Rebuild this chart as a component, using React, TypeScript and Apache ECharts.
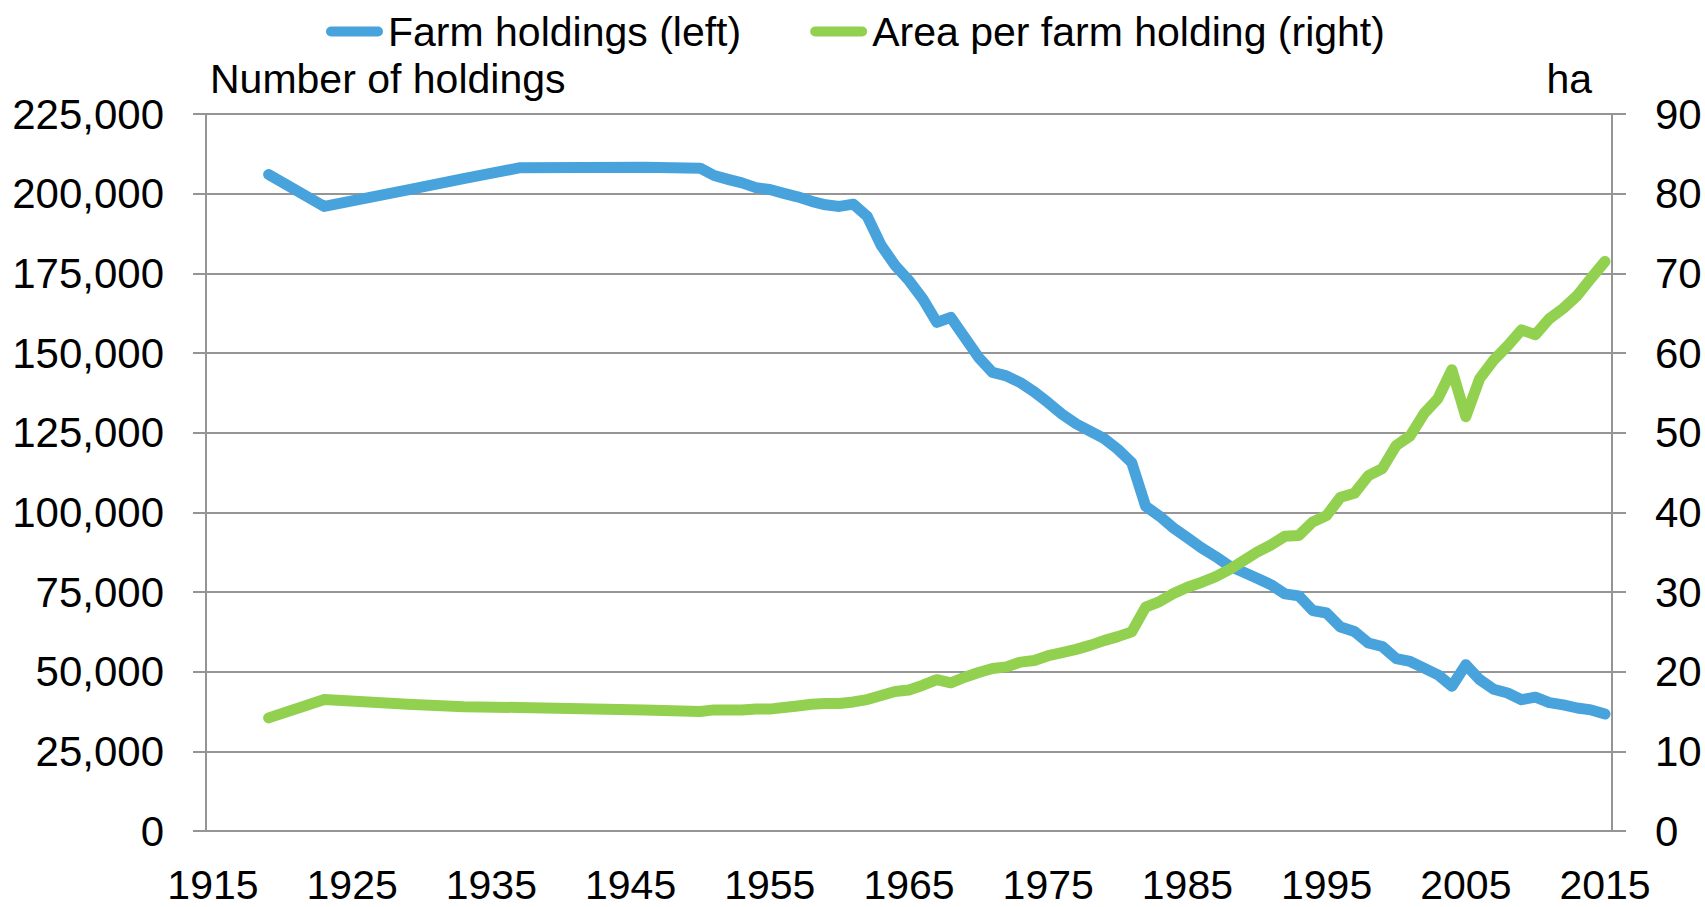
import React, { useEffect, useRef } from "react";
import * as echarts from "echarts";

// Years with observations
const years = [
  1919, 1923, 1929, 1933, 1937, 1946, 1950, 1951, 1952, 1953, 1954, 1955, 1956, 1957, 1958, 1959,
  1960, 1961, 1962, 1963, 1964, 1965, 1966, 1967, 1968, 1969, 1970, 1971, 1972, 1973, 1974, 1975,
  1976, 1977, 1978, 1979, 1980, 1981, 1982, 1983, 1984, 1985, 1986, 1987, 1988, 1989, 1990, 1991,
  1992, 1993, 1994, 1995, 1996, 1997, 1998, 1999, 2000, 2001, 2002, 2003, 2004, 2005, 2006, 2007,
  2008, 2009, 2010, 2011, 2012, 2013, 2014, 2015,
];

// Farm holdings (left axis, number)
const holdings = [
  206000, 196000, 201200, 204700, 208100, 208300, 208000, 205700, 204500, 203400, 201900, 201300,
  200100, 199000, 197600, 196500, 196000, 196700, 192900, 183800, 177500, 172700, 166900, 159600,
  161200, 154900, 148600, 143900, 142800, 140700, 137800, 134400, 130800, 127800, 125500, 123200,
  119800, 115600, 101900, 98800, 95100, 92000, 88900, 86200, 83200, 81300, 79300, 77300, 74400,
  73800, 69200, 68400, 64000, 62600, 59000, 57900, 54100, 53200, 51100, 49000, 45400, 52200, 47500,
  44500, 43300, 41200, 42000, 40300, 39600, 38600, 38000, 36700,
];

// Area per farm holding (right axis, ha)
const areaPerHolding = [
  14.2, 16.5, 15.9, 15.6, 15.5, 15.2, 15.0, 15.2, 15.2, 15.2, 15.3, 15.3, 15.5, 15.7, 15.9, 16.0,
  16.0, 16.2, 16.5, 17.0, 17.5, 17.7, 18.3, 19.0, 18.6, 19.3, 19.9, 20.4, 20.6, 21.2, 21.4, 22.0,
  22.4, 22.8, 23.3, 23.9, 24.4, 25.0, 28.1, 28.8, 29.8, 30.6, 31.2, 31.9, 32.8, 33.9, 35.0, 35.9,
  37.0, 37.1, 38.8, 39.6, 41.9, 42.4, 44.6, 45.5, 48.4, 49.6, 52.4, 54.3, 57.9, 52.0, 56.8, 59.1,
  60.9, 62.9, 62.3, 64.3, 65.6, 67.2, 69.4, 71.5,
];

const xTickLabels = [1915, 1925, 1935, 1945, 1955, 1965, 1975, 1985, 1995, 2005, 2015];

const seriesNames = ["Farm holdings (left)", "Area per farm holding (right)"];
const axisTitles = ["Number of holdings", "ha"];

const FONT = '"Liberation Sans", Arial, sans-serif';
const GRAY = "#959595";
const BLUE = "#48A3DC";
const GREEN = "#92D050";

export default function App() {
  const ref = useRef<HTMLDivElement>(null);

  useEffect(() => {
    const chart = echarts.init(ref.current!, null, { renderer: "svg" });
    const legendIcon =
      "path://M5,0 L52,0 A5,5 0 0 1 52,10 L5,10 A5,5 0 0 1 5,0 Z";

    chart.setOption({
      animation: false,
      backgroundColor: "#ffffff",
      textStyle: { fontFamily: FONT },
      grid: { left: 206, right: 93, top: 114, bottom: 76 },
      legend: {
        left: 326,
        top: 11,
        padding: 0,
        itemGap: 69,
        itemWidth: 57,
        itemHeight: 10,
        icon: legendIcon,
        textStyle: { fontSize: 41, color: "#000", fontFamily: FONT },
        data: seriesNames,
      },
      graphic: [
        {
          type: "text",
          x: 210,
          y: 79,
          style: {
            text: axisTitles[0],
            font: `41px ${FONT}`,
            fill: "#000",
            align: "left",
            verticalAlign: "middle",
          },
        },
        {
          type: "text",
          x: 1592,
          y: 79,
          style: {
            text: axisTitles[1],
            font: `41px ${FONT}`,
            fill: "#000",
            align: "right",
            verticalAlign: "middle",
          },
        },
      ],
      xAxis: {
        type: "value",
        min: 1914.5,
        max: 2015.5,
        axisLine: { show: true, lineStyle: { color: GRAY, width: 2 } },
        axisTick: { show: false },
        splitLine: { show: false },
        axisLabel: {
          customValues: xTickLabels,
          formatter: (v: number) => String(v),
          margin: 34,
          fontSize: 41,
          lineHeight: 40,
          color: "#000",
          fontFamily: FONT,
        },
      },
      yAxis: [
        {
          type: "value",
          position: "left",
          min: 0,
          max: 225000,
          interval: 25000,
          axisLine: { show: true, lineStyle: { color: GRAY, width: 2 } },
          axisTick: { show: true, length: 13, lineStyle: { color: GRAY, width: 2 } },
          splitLine: { show: true, lineStyle: { color: GRAY, width: 2 } },
          axisLabel: {
            margin: 42,
            fontSize: 42,
            color: "#000",
            fontFamily: FONT,
            formatter: (v: number) => v.toLocaleString("en-US"),
          },
        },
        {
          type: "value",
          position: "right",
          min: 0,
          max: 90,
          interval: 10,
          axisLine: { show: true, lineStyle: { color: GRAY, width: 2 } },
          axisTick: { show: true, length: 14, lineStyle: { color: GRAY, width: 2 } },
          splitLine: { show: false },
          axisLabel: {
            margin: 43,
            fontSize: 42,
            color: "#000",
            fontFamily: FONT,
          },
        },
      ],
      series: [
        {
          name: seriesNames[0],
          type: "line",
          yAxisIndex: 0,
          symbol: "none",
          showSymbol: false,
          itemStyle: { color: BLUE },
          lineStyle: { color: BLUE, width: 11, cap: "round", join: "round" },
          data: years.map((y, i) => [y, holdings[i]]),
        },
        {
          name: seriesNames[1],
          type: "line",
          yAxisIndex: 1,
          symbol: "none",
          showSymbol: false,
          itemStyle: { color: GREEN },
          lineStyle: { color: GREEN, width: 11, cap: "round", join: "round" },
          data: years.map((y, i) => [y, areaPerHolding[i]]),
        },
      ],
    });

    return () => chart.dispose();
  }, []);

  return (
    <div
      ref={ref}
      style={{ position: "fixed", left: 0, top: 0, width: 1705, height: 907, background: "#fff" }}
    />
  );
}
